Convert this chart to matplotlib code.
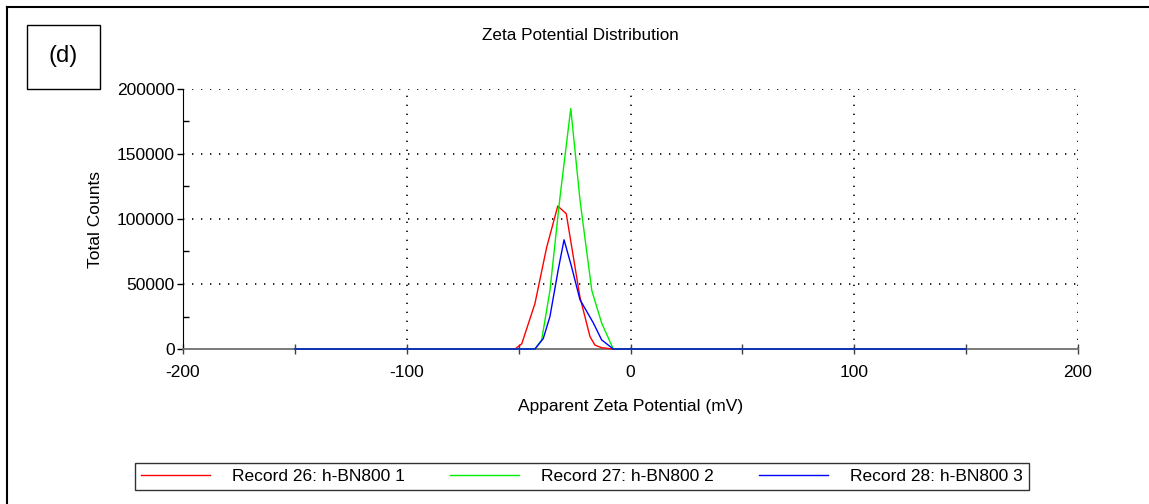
import matplotlib
matplotlib.use("Agg")
import matplotlib.pyplot as plt
from matplotlib.lines import Line2D
from matplotlib.patches import Rectangle

plt.rcParams['font.family'] = ['Liberation Sans', 'DejaVu Sans']

# zeta potential (mV) vs total counts for the three h-BN800 records
rec26_mv = [-150, -51.6, -48.6, -42.7, -37.5, -32.5, -28.7, -22.6, -18.1, -15.9, -12.9, -7.8, 150]
rec26_counts = [0, 0, 4000, 35000, 78000, 110000, 104000, 40000, 9500, 3000, 1000, 0, 0]

rec27_mv = [-150, -42.7, -39.7, -36.0, -31.5, -26.7, -22.6, -17.3, -12.9, -7.7, 150]
rec27_counts = [0, 0, 7000, 45000, 117000, 185000, 115000, 45000, 20000, 0, 0]

rec28_mv = [-150, -42.7, -39.0, -36.0, -32.3, -29.7, -26.3, -22.6, -16.6, -12.9, -7.7, 150]
rec28_counts = [0, 0, 8000, 25000, 61000, 84000, 63000, 38000, 20000, 7000, 0, 0]

labels = ['Record 26: h-BN800 1', 'Record 27: h-BN800 2', 'Record 28: h-BN800 3']
colors = ['#ff0000', '#00ee00', '#0000ff']

x_ticks = [-200, -100, 0, 100, 200]
y_ticks = [0, 50000, 100000, 150000, 200000]

W, H = 1149, 504
fig = plt.figure(figsize=(W / 100, H / 100), dpi=100)
ax = fig.add_axes([183 / W, 1 - 349 / H, (1078 - 183) / W, (349 - 89) / H])

series = [(rec26_mv, rec26_counts), (rec27_mv, rec27_counts), (rec28_mv, rec28_counts)]
handles = []
for (xs, ys), c, lab in zip(series, colors, labels):
    h, = ax.plot(xs, ys, color=c, lw=1.0, label=lab, zorder=3, clip_on=False)
    handles.append(h)

ax.set_xlim(-200, 200)
ax.set_ylim(0, 200000)
ax.set_xticks(x_ticks)
ax.set_xticks([-150, -50, 50, 150], minor=True)
ax.set_yticks(y_ticks)
ax.set_yticks([25000, 75000, 125000, 175000], minor=True)
ax.set_xticklabels([str(v) for v in x_ticks], fontsize=12.5)
ax.set_yticklabels([str(v) for v in y_ticks], fontsize=12.5)

# dotted grid, no top/right spines
for v in [-100, 0, 100, 200]:
    ax.axvline(v, color='black', lw=1.2, ls=(0, (0.8, 4.6)), zorder=1)
for v in [50000, 100000, 150000, 200000]:
    ax.axhline(v, color='black', lw=1.2, ls=(0, (0.8, 4.6)), zorder=1)

ax.spines['top'].set_visible(False)
ax.spines['right'].set_visible(False)
ax.spines['left'].set_color('black')
ax.spines['bottom'].set_color('#707070')
ax.spines['bottom'].set_linewidth(1.3)

ax.tick_params(axis='y', which='major', direction='out', length=4, width=1, pad=2)
ax.tick_params(axis='y', which='minor', direction='in', length=4, width=1)
ax.tick_params(axis='x', which='both', direction='inout', length=7, width=1,
               color='#404040', pad=8)

fig.text(580.5 / W, 1 - 36 / H, 'Zeta Potential Distribution', fontsize=12.3,
         ha='center', va='center')
ax.set_xlabel('Apparent Zeta Potential (mV)', fontsize=12.5, labelpad=14)
ax.set_ylabel('Total Counts', fontsize=12.5, labelpad=10)

leg = fig.legend(handles=handles, labels=labels, ncol=3, loc='lower left',
                 bbox_to_anchor=(135 / W, 1 - 490 / H), fontsize=12.5,
                 frameon=True, fancybox=False, handlelength=3.95,
                 handletextpad=1.3, borderpad=0.35, borderaxespad=0,
                 columnspacing=2.6)
leg.get_frame().set_edgecolor('black')
leg.get_frame().set_linewidth(1.0)

# panel tag and outer frame
fig.add_artist(Rectangle((27 / W, 1 - 89 / H), 73 / W, 64 / H, transform=fig.transFigure,
                         fill=False, edgecolor='black', lw=1.0))
fig.text(63.5 / W, 1 - 56 / H, '(d)', fontsize=17, ha='center', va='center')
fig.add_artist(Line2D([7 / W, 7 / W], [0, 1 - 7 / H], transform=fig.transFigure,
                      color='black', lw=1.5))
fig.add_artist(Line2D([7 / W, 1], [1 - 7 / H, 1 - 7 / H], transform=fig.transFigure,
                      color='black', lw=1.5))

fig.savefig('out.png', dpi=100)
